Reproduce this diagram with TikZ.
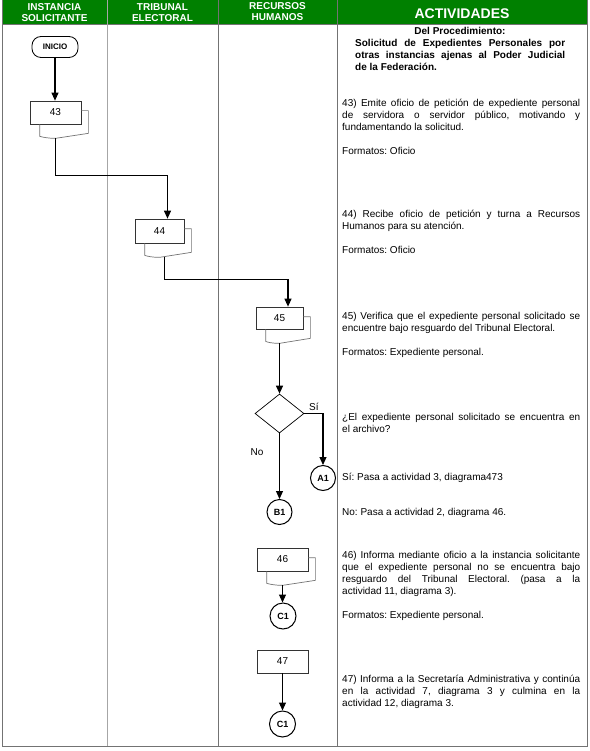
\documentclass[tikz,border=0pt]{standalone}
\usepackage{fontspec}
\setmainfont{Liberation Sans}
\usetikzlibrary{arrows.meta,shapes.geometric,calc}
\definecolor{hdrgreen}{RGB}{0,128,0}
\frenchspacing
\newcommand\docshadow[1]{%
  \draw[doc] ($(#1.north east)+(0,10)$) -- ++(7,0)
    -- ($(#1.south east)+(7,9)$)
    -- ($(#1.south)+(0,14)$) coordinate (#1s)
    .. controls ($(#1.south)+(-7,14)$) and ($(#1.south)+(-12,13)$) .. ($(#1.south west)+(10,12)$)
    -- ($(#1.south west)+(10,0)$);}
\begin{document}
\begin{tikzpicture}[x=1pt,y=-1pt,
  conn/.style={line width=1.1pt,-{Triangle[length=8pt,width=7pt]}},
  procbox/.style={draw=black!80,line width=0.7pt,fill=white,minimum width=51pt,minimum height=23pt,inner sep=0pt,font=\fontsize{10}{12}\selectfont},
  startbox/.style={draw=black,line width=0.8pt,rounded corners=9pt,minimum width=46pt,minimum height=21pt,inner sep=0pt,font=\bfseries\fontsize{8}{9}\selectfont},
  conncircle/.style={circle,draw=black,line width=1pt,minimum size=25pt,inner sep=0pt,font=\bfseries\fontsize{9}{10}\selectfont},
  decision/.style={diamond,draw=black,line width=0.7pt,minimum width=49pt,minimum height=39pt,inner sep=0pt},
  doc/.style={draw=black!55,line width=0.7pt},
  hdr/.style={text=white,font=\bfseries\fontsize{10}{11}\selectfont,align=center,inner sep=0pt},
  act/.style={anchor=base west,text width=238pt,align=justify,inner sep=0pt,font=\fontsize{10}{12}\selectfont},
  lbl/.style={inner sep=0pt,font=\fontsize{10}{12}\selectfont},
  gridline/.style={draw=black!55,line width=0.8pt}
]
\useasboundingbox (0,0) rectangle (589,751);
% header
\fill[hdrgreen] (2,0) rectangle (587,24);
\node[hdr] (h1) at (54.5,12.5) {INSTANCIA\\SOLICITANTE};
\node[hdr] (h2) at (162.5,12.5) {TRIBUNAL\\ELECTORAL};
\node[hdr] (h3) at (277.5,12) {RECURSOS\\HUMANOS};
\node[hdr,font=\bfseries\fontsize{14}{16}\selectfont] (h4) at (462,14) {ACTIVIDADES};
% grid
\draw[gridline] (2,0) -- (2,746) -- (587,746) -- (587,0);
\draw[gridline] (2,24) -- (587,24);
\draw[draw=black!35,line width=0.9pt] (107,0) -- (107,746);
\draw[gridline] (218,0) -- (218,746);
\draw[gridline] (337,0) -- (337,746);
% title
\node[anchor=base,inner sep=0pt,font=\bfseries\fontsize{10}{12}\selectfont] (t0) at (460,35) {Del Procedimiento:};
\node[anchor=base west,text width=210pt,align=justify,inner sep=0pt,font=\bfseries\fontsize{10}{12}\selectfont] (t1) at (355,47)
  {Solicitud de Expedientes Personales por\linebreak otras instancias ajenas al Poder Judicial\linebreak de la Federación.};
% flow
\node[startbox] (inicio) at (55,47) {INICIO};
\node[procbox] (b43) at (55.5,112.5) {43};
\docshadow{b43}
\draw[conn] (inicio.south) -- (inicio.south |- b43.north);

\node[procbox,minimum width=49pt,minimum height=24pt] (b44) at (159.5,231) {44};
\docshadow{b44}
\coordinate (e44) at ($(b44.north)+(8,0)$);
\draw[conn] (b43s) -- ++(0,37) -| (e44);

\node[procbox,minimum width=47pt,minimum height=22pt] (b45) at (279.5,318) {45};
\docshadow{b45}
\coordinate (e45) at ($(b45.north)+(8.5,0)$);
\draw[conn] ($(b44s)+(5,0)$) coordinate (b44o) -- ++(0,22) -| (e45);

\node[decision] (d) at (279.5,413.5) {};
\draw[conn] (b45s) -- (d.north);
\node[conncircle] (a1) at (323,478) {A1};
\node[conncircle] (b1) at (279.5,512) {B1};
\draw[conn] (d.east) -| (a1.north);
\draw[conn] (d.south) -- (b1.north);
\node[lbl,anchor=base west] (lsi) at (309,410) {Sí};
\node[lbl] (lno) at (257,452) {No};

\node[procbox] (b46) at (282.5,559.5) {46};
\docshadow{b46}
\node[conncircle,minimum size=26pt] (c1a) at (283,616) {C1};
\draw[conn] (b46s) -- (b46s |- c1a.north);

\node[procbox] (b47) at (282.5,661.5) {47};
\node[conncircle,minimum size=26pt] (c1b) at (282.5,724) {C1};
\draw[conn] (b47) -- (c1b);

% activities
\node[act] (a43) at (342,106.5) {43) Emite oficio de petición de expediente personal\linebreak de servidora o servidor público, motivando y\linebreak fundamentando la solicitud.\par\vskip12pt Formatos: Oficio};
\node[act] (a44) at (342,217.5) {44) Recibe oficio de petición y turna a Recursos\linebreak Humanos para su atención.\par\vskip12pt Formatos: Oficio};
\node[act] (a45) at (342,319.5) {45) Verifica que el expediente personal solicitado se\linebreak encuentre bajo resguardo del Tribunal Electoral.\par\vskip12pt Formatos: Expediente personal.};
\node[act] (aq) at (342,420.5) {¿El expediente personal solicitado se encuentra en\linebreak el archivo?};
\node[act] (asi) at (342,480.5) {Sí: Pasa a actividad 3, diagrama473};
\node[act] (ano) at (342,515.5) {No: Pasa a actividad 2, diagrama 46.};
\node[act] (a46) at (342,558.5) {46) Informa mediante oficio a la instancia solicitante\linebreak que el expediente personal no se encuentra bajo\linebreak resguardo del Tribunal Electoral. (pasa a la\linebreak actividad 11, diagrama 3).\par\vskip12pt Formatos: Expediente personal.};
\node[act] (a47) at (342,682.5) {47) Informa a la Secretaría Administrativa y continúa\linebreak en la actividad 7, diagrama 3 y culmina en la\linebreak actividad 12, diagrama 3.};
\end{tikzpicture}
\end{document}
